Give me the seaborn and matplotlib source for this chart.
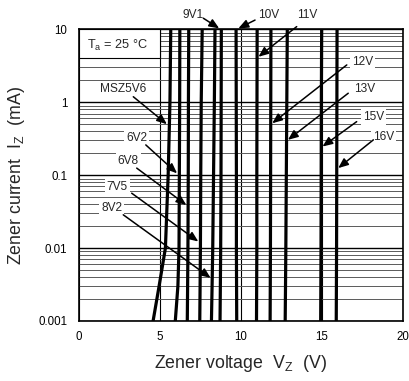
import numpy as np
import pandas as pd
import matplotlib
matplotlib.use("Agg")
import matplotlib.pyplot as plt
from matplotlib.patches import Rectangle
import seaborn as sns

# Zener current sample points (mA) shared by every curve
current_ma = [0.001, 0.003, 0.01, 0.1, 1, 10]

# Zener voltage (V) of each device at the currents above
v_5v6 = [4.60, 4.97, 5.36, 5.53, 5.64, 5.69]
v_6v2 = [5.97, 6.13, 6.20, 6.22, 6.24, 6.25]
v_6v8 = [6.71, 6.73, 6.75, 6.77, 6.78, 6.80]
v_7v5 = [7.48, 7.50, 7.52, 7.54, 7.57, 7.63]
v_8v2 = [8.20, 8.24, 8.28, 8.33, 8.38, 8.42]
v_9v1 = [8.73, 8.75, 8.77, 8.79, 8.80, 8.81]
v_10v = [9.76, 9.75, 9.74, 9.74, 9.73, 9.72]
v_11v = [10.98, 10.99, 11.00, 11.00, 11.01, 11.02]
v_12v = [11.82, 11.83, 11.84, 11.85, 11.86, 11.87]
v_13v = [12.75, 12.77, 12.79, 12.82, 12.85, 12.88]
v_15v = [14.94, 14.95, 14.96, 14.97, 14.98, 15.00]
v_16v = [15.90, 15.91, 15.92, 15.93, 15.94, 15.95]

devices = ["MSZ5V6", "6V2", "6V8", "7V5", "8V2", "9V1",
           "10V", "11V", "12V", "13V", "15V", "16V"]
voltages = [v_5v6, v_6v2, v_6v8, v_7v5, v_8v2, v_9v1,
            v_10v, v_11v, v_12v, v_13v, v_15v, v_16v]

x_ticks = [0, 5, 10, 15, 20]
y_ticks = [0.001, 0.01, 0.1, 1, 10]
y_tick_labels = ["0.001", "0.01", "0.1", "1", "10"]

# Callout labels: (text, label position, arrow start, arrow tip, boxed) in data units
callouts = [
    ("MSZ5V6", (2.76, 1.51), (3.38, 1.19), (5.45, 0.50), True),
    ("6V2", (3.59, 0.321), (4.15, 0.26), (6.08, 0.106), True),
    ("6V8", (3.07, 0.157), (3.59, 0.125), (6.65, 0.039), True),
    ("7V5", (2.39, 0.0698), (3.28, 0.0566), (7.39, 0.0123), True),
    ("8V2", (2.05, 0.036), (2.76, 0.0286), (8.15, 0.0039), True),
    ("9V1", (7.08, 15.7), (7.70, 14.2), (8.68, 10.3), False),
    ("10V", (11.71, 15.7), (10.89, 13.4), (9.86, 10.3), False),
    ("11V", (14.08, 15.7), (13.46, 10.9), (11.10, 4.2), False),
    ("12V", (17.51, 3.6), (16.55, 3.25), (11.95, 0.515), True),
    ("13V", (17.67, 1.51), (16.64, 1.33), (12.92, 0.305), True),
    ("15V", (18.19, 0.635), (17.16, 0.542), (15.05, 0.247), True),
    ("16V", (18.80, 0.338), (18.19, 0.305), (16.02, 0.125), True),
]

rows = []
for name, vz in zip(devices, voltages):
    for i, v in zip(current_ma, vz):
        rows.append({"device": name, "current": i, "voltage": v})
df = pd.DataFrame(rows)

sns.set_style("white")
plt.rcParams["font.family"] = ["Liberation Sans", "DejaVu Sans"]
plt.rcParams["mathtext.default"] = "regular"

fig = plt.figure(figsize=(4.09, 3.81), dpi=100)
ax = fig.add_axes([0.192, 0.1575, 0.7926, 0.7655])

sns.lineplot(data=df, x="voltage", y="current", units="device",
             estimator=None, sort=False, color="black", linewidth=2.3,
             ax=ax, zorder=4, legend=False)

ax.set_yscale("log")
ax.set_xlim(0, 20)
ax.set_ylim(0.001, 10)
ax.set_xticks(x_ticks)
ax.set_xticklabels([str(t) for t in x_ticks])
ax.set_yticks(y_ticks)
ax.set_yticklabels(y_tick_labels)
ax.yaxis.set_minor_locator(matplotlib.ticker.LogLocator(base=10, subs=np.arange(2, 10)))
ax.yaxis.set_minor_formatter(matplotlib.ticker.NullFormatter())

ax.grid(False)
ax.yaxis.grid(True, which="major", color="black", linewidth=1.0, zorder=1)
ax.yaxis.grid(True, which="minor", color="#5a5a5a", linewidth=0.7, zorder=1)
ax.xaxis.grid(True, which="major", color="black", linewidth=0.8, zorder=1)
ax.set_axisbelow(True)

ax.tick_params(axis="both", which="both", length=0, labelsize=8.3, colors="black")
ax.tick_params(axis="x", pad=7)
ax.tick_params(axis="y", pad=8)

for s in ax.spines.values():
    s.set_visible(True)
    s.set_color("black")
    s.set_linewidth(1.2)

ax.set_xlabel(r"Zener voltage  $V_Z$  (V)", fontsize=12.8)
ax.set_ylabel(r"Zener current  $I_Z$  (mA)", fontsize=12.8)
ax.xaxis.set_label_coords(0.5, -0.11)
ax.yaxis.set_label_coords(-0.16, 0.5)

# Temperature box in the upper-left corner
ax.add_patch(Rectangle((0, 4), 5, 6, facecolor="white", edgecolor="black",
                       linewidth=0.8, zorder=2))
ax.text(2.44, 6.1, r"$T_a$ = 25 °C", fontsize=9.2, ha="center", va="center",
        zorder=3)

for text, pos, start, tip, boxed in callouts:
    bbox = dict(facecolor="white", edgecolor="none", pad=1.5) if boxed else None
    ax.text(pos[0], pos[1], text, fontsize=8.6, ha="center", va="center",
            bbox=bbox, zorder=6, clip_on=False)
    ax.annotate("", xy=tip, xytext=start,
                arrowprops=dict(arrowstyle="-|>,head_length=0.6,head_width=0.25",
                                color="black", lw=1.1, shrinkA=0, shrinkB=0,
                                mutation_scale=10),
                zorder=7, annotation_clip=False)

fig.savefig("out.png", dpi=100)
